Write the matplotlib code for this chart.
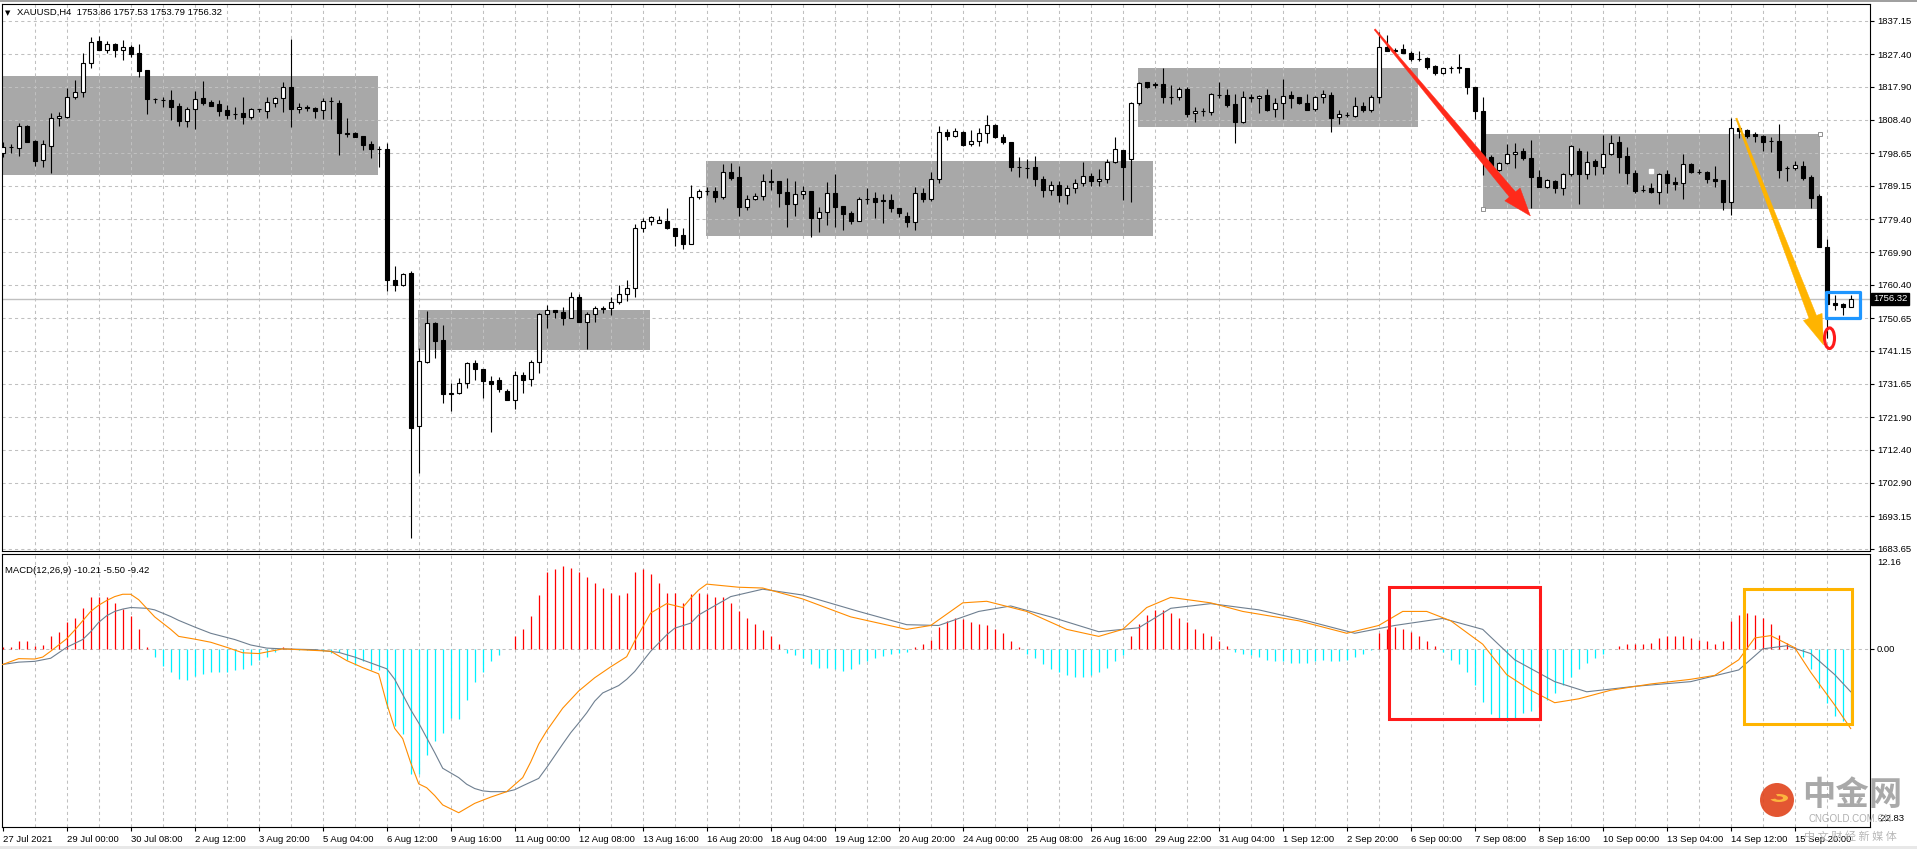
import matplotlib
matplotlib.use("Agg")
import matplotlib.pyplot as plt
import numpy as np
from matplotlib.patches import Rectangle, Polygon, Ellipse, Wedge
from matplotlib.transforms import blended_transform_factory

W, H = 1917, 849
plt.rcParams['font.family'] = ['Liberation Sans', 'DejaVu Sans']

# ---------------- data: XAUUSD H4 candles (bar index 0..231) ----------------
open_ = [1798.7,1800.3,1800.1,1806.5,1802.2,1796.6,1800.8,1808.8,1809.3,1815.1,
         1816.4,1825.0,1831.3,1828.7,1830.4,1828.7,1829.6,1827.7,1822.8,1814.5,
         1814.2,1814.1,1812.3,1808.1,1811.4,1814.6,1813.5,1812.9,1811.2,1810.1,
         1810.2,1809.2,1811.4,1811.0,1813.1,1814.6,1818.0,1811.4,1812.0,1811.8,
         1811.2,1813.8,1813.1,1804.4,1804.4,1803.6,1801.3,1799.9,1799.8,1761.9,
         1760.2,1763.7,1719.3,1738.0,1749.2,1744.2,1728.5,1728.8,1731.7,1737.5,
         1735.8,1732.5,1732.6,1729.4,1727.0,1734.1,1732.9,1737.9,1751.8,1753.0,
         1752.5,1750.8,1756.9,1749.5,1751.8,1753.4,1753.5,1755.3,1757.6,1759.4,
         1776.8,1778.9,1778.4,1778.9,1776.8,1774.9,1772.2,1786.0,1787.6,1787.7,
         1786.0,1793.1,1791.6,1782.9,1785.3,1786.3,1790.5,1790.5,1787.3,1784.0,
         1786.7,1787.7,1779.9,1781.5,1787.0,1783.3,1781.2,1779.0,1785.4,1785.5,
         1784.9,1785.0,1782.6,1780.4,1778.5,1787.0,1785.3,1791.1,1804.7,1803.7,
         1804.7,1801.2,1802.2,1804.4,1806.8,1803.2,1801.8,1794.7,1794.4,1794.7,
         1791.0,1788.0,1789.5,1786.5,1788.5,1790.0,1792.0,1790.5,1791.0,1796.2,
         1799.6,1796.9,1813.1,1819.3,1818.7,1818.7,1815.1,1814.9,1817.3,1810.2,
         1810.9,1810.5,1815.7,1815.6,1812.9,1807.8,1814.8,1814.6,1815.6,1811.4,
         1813.1,1815.6,1814.9,1813.1,1811.4,1814.9,1815.6,1809.1,1809.7,1809.5,
         1812.5,1811.2,1814.9,1829.6,1828.5,1828.9,1827.9,1826.1,1826.2,1824.1,
         1822.0,1823.4,1823.6,1823.3,1817.8,1811.0,1797.5,1793.8,1795.7,1798.4,
         1799.3,1797.2,1791.8,1788.9,1790.6,1788.4,1792.5,1799.3,1792.5,1796.4,
         1794.7,1798.4,1801.8,1797.8,1792.8,1788.0,1788.4,1787.3,1792.5,1790.4,
         1790.1,1795.5,1793.3,1793.3,1791.1,1790.8,1784.5,1805.9,1805.4,1804.1,
         1803.6,1802.2,1802.2,1794.3,1794.3,1794.9,1791.8,1786.2,1771.3,1755.0,
         1754.7,1753.86]
high_ = [1802.0,1801.3,1807.5,1806.8,1802.5,1802.5,1810.2,1810.6,1817.5,1819.9,
         1827.7,1832.5,1832.8,1831.3,1830.8,1831.5,1830.1,1830.4,1822.8,1814.6,
         1815.0,1817.0,1813.3,1812.0,1816.7,1819.6,1814.1,1814.1,1812.6,1812.2,
         1815.1,1811.9,1811.6,1815.1,1815.1,1819.4,1831.7,1813.1,1812.6,1812.2,
         1814.6,1814.9,1814.1,1808.8,1804.7,1803.6,1802.1,1800.7,1801.5,1765.8,
         1763.7,1764.5,1741.9,1752.9,1749.7,1748.7,1731.8,1733.2,1738.0,1738.5,
         1735.8,1733.9,1733.6,1730.1,1735.4,1734.9,1738.5,1752.3,1754.5,1753.1,
         1753.8,1758.4,1757.6,1752.6,1754.2,1754.3,1756.9,1760.3,1761.8,1778.0,
         1779.7,1780.4,1780.4,1782.8,1776.8,1776.8,1789.4,1788.1,1788.7,1788.7,
         1795.5,1795.9,1794.9,1786.5,1787.0,1792.6,1794.0,1790.5,1791.3,1790.6,
         1789.1,1787.7,1782.9,1790.2,1792.6,1783.3,1781.8,1785.8,1788.4,1787.3,
         1786.7,1786.7,1782.6,1781.6,1788.7,1788.4,1793.3,1806.5,1805.6,1806.1,
         1805.1,1805.4,1805.9,1809.7,1807.1,1804.2,1801.8,1797.4,1797.0,1797.7,
         1792.0,1790.5,1790.5,1789.5,1791.0,1796.0,1793.0,1794.0,1797.0,1803.4,
         1799.6,1813.5,1819.4,1819.3,1819.4,1823.3,1818.5,1818.0,1818.0,1812.0,
         1811.7,1816.2,1819.4,1817.3,1815.9,1816.7,1815.8,1815.6,1817.3,1814.6,
         1820.2,1816.7,1814.9,1815.9,1815.3,1817.0,1816.5,1811.2,1810.7,1814.9,
         1813.6,1815.6,1834.0,1833.0,1829.1,1830.4,1828.4,1828.4,1826.5,1824.3,
         1823.5,1824.0,1827.5,1823.3,1817.8,1815.1,1798.1,1796.2,1801.3,1801.5,
         1800.1,1802.5,1793.8,1791.1,1790.8,1793.0,1801.0,1800.1,1799.3,1796.9,
         1803.9,1803.9,1803.6,1800.5,1793.8,1789.4,1789.9,1792.8,1793.8,1791.6,
         1798.4,1795.9,1793.9,1793.5,1794.9,1790.8,1808.8,1805.9,1805.7,1804.9,
         1803.9,1803.4,1807.1,1795.0,1796.4,1796.4,1792.3,1786.8,1773.6,1757.4,
         1755.0,1757.53]
low_ = [1797.6,1798.6,1797.9,1802.0,1795.0,1794.5,1792.8,1806.5,1808.8,1814.4,
        1815.1,1823.3,1828.6,1827.7,1826.7,1825.7,1826.7,1820.9,1810.0,1813.3,
        1812.1,1808.3,1806.5,1806.3,1805.7,1812.6,1812.3,1809.4,1808.6,1808.5,
        1807.1,1808.6,1810.6,1808.8,1812.0,1810.7,1806.3,1810.2,1810.8,1809.0,
        1808.5,1808.5,1798.1,1803.4,1803.2,1799.6,1797.1,1794.7,1758.6,1758.6,
        1760.0,1686.7,1705.6,1737.6,1739.0,1726.1,1723.8,1728.5,1730.3,1732.7,
        1727.6,1717.6,1729.1,1727.0,1724.2,1728.9,1731.0,1734.8,1747.7,1750.6,
        1748.7,1750.6,1749.5,1741.6,1749.7,1752.2,1751.6,1754.8,1755.8,1756.9,
        1775.8,1777.9,1778.2,1776.5,1771.6,1770.7,1772.2,1785.3,1786.5,1784.5,
        1785.3,1790.9,1780.4,1782.1,1785.1,1785.1,1787.9,1783.1,1777.2,1780.5,
        1785.3,1774.4,1775.8,1777.8,1777.1,1776.3,1778.0,1779.0,1783.9,1779.7,
        1778.4,1781.6,1780.2,1777.2,1776.3,1784.4,1784.8,1790.1,1802.5,1803.4,
        1800.8,1800.8,1800.8,1801.7,1803.0,1801.2,1793.5,1791.8,1791.5,1789.0,
        1786.0,1786.5,1784.5,1784.0,1787.0,1789.0,1789.0,1789.0,1790.0,1795.7,
        1785.0,1784.5,1812.7,1817.5,1817.5,1813.3,1812.9,1814.1,1809.3,1807.8,
        1809.5,1809.8,1814.6,1812.2,1801.7,1807.5,1813.6,1810.4,1811.0,1809.3,
        1808.6,1811.9,1812.9,1811.2,1811.0,1813.1,1804.9,1807.0,1809.1,1809.3,
        1810.7,1810.7,1813.2,1828.4,1827.9,1827.7,1825.5,1825.5,1823.0,1821.4,
        1821.8,1822.0,1822.0,1815.8,1808.5,1792.3,1793.8,1793.6,1795.4,1794.3,
        1796.7,1782.6,1788.7,1788.6,1787.2,1786.5,1792.1,1783.9,1791.1,1792.3,
        1792.6,1798.1,1793.0,1789.7,1787.2,1787.5,1787.0,1783.8,1787.0,1787.8,
        1785.2,1792.8,1792.6,1789.9,1788.9,1782.1,1780.7,1803.0,1803.1,1802.0,
        1799.4,1799.1,1791.5,1790.6,1793.8,1790.8,1782.6,1771.3,1745.0,1753.1,
        1751.6,1753.79]
close_ = [1800.4,1800.4,1806.5,1802.0,1796.5,1801.2,1808.8,1809.5,1815.1,1816.4,
          1825.0,1831.1,1828.6,1830.4,1828.7,1829.4,1827.5,1822.6,1814.4,1814.4,
          1814.0,1812.1,1808.1,1811.5,1814.5,1813.3,1812.3,1811.0,1809.8,1810.0,
          1809.2,1811.5,1811.5,1813.4,1814.7,1818.0,1811.4,1812.0,1811.8,1811.0,
          1813.7,1813.7,1804.4,1804.3,1803.4,1801.1,1799.9,1799.8,1761.7,1760.2,
          1763.4,1718.7,1738.1,1749.2,1744.1,1728.5,1728.8,1731.7,1737.5,1735.8,
          1732.5,1731.5,1730.2,1727.0,1734.1,1732.8,1737.9,1751.8,1753.0,1752.4,
          1750.6,1756.7,1749.5,1751.8,1753.5,1753.5,1755.3,1757.6,1759.4,1776.8,
          1778.9,1780.1,1779.2,1776.8,1774.6,1772.2,1786.0,1787.7,1787.7,1786.0,
          1793.1,1791.5,1782.9,1785.3,1786.3,1790.5,1790.3,1787.2,1784.0,1786.7,
          1787.7,1779.9,1781.5,1787.0,1783.1,1781.0,1779.0,1785.3,1785.2,1784.5,
          1784.7,1782.6,1781.2,1778.7,1787.0,1785.3,1791.1,1804.7,1803.7,1805.1,
          1801.0,1802.2,1804.4,1806.8,1803.2,1801.8,1794.7,1794.6,1794.3,1791.0,
          1788.0,1789.5,1786.5,1788.5,1790.0,1792.0,1790.5,1791.0,1796.0,1799.9,
          1794.7,1813.1,1819.0,1818.0,1818.6,1815.1,1815.0,1817.2,1810.0,1810.9,
          1811.0,1815.8,1815.5,1812.7,1807.8,1814.9,1814.9,1815.4,1811.2,1813.1,
          1815.4,1814.8,1813.1,1811.2,1814.9,1815.8,1809.0,1809.9,1809.8,1812.5,
          1811.2,1814.9,1829.4,1828.4,1828.4,1827.7,1826.0,1826.0,1823.8,1822.0,
          1823.3,1823.5,1823.4,1817.8,1811.0,1797.6,1794.7,1795.7,1798.4,1799.0,
          1797.2,1791.8,1788.9,1790.8,1788.4,1792.5,1800.8,1792.5,1796.2,1794.9,
          1798.4,1801.7,1797.6,1792.8,1787.7,1787.9,1787.3,1792.6,1790.1,1789.7,
          1795.4,1793.3,1793.2,1791.1,1790.6,1784.4,1805.9,1805.2,1803.6,1803.6,
          1802.0,1802.1,1793.8,1794.2,1795.2,1791.5,1785.7,1771.3,1754.8,1754.5,
          1754.0,1756.32]

# MACD histogram (one value per bar)
macd_hist = [0.3,0.2,1.05,1.05,0.4,0.55,1.6,2.2,3.4,4.0,
             5.3,6.6,6.7,6.6,5.9,5.1,4.15,2.6,0.3,-1.1,
             -2.2,-3.0,-3.9,-4.0,-3.5,-3.2,-3.0,-2.9,-2.9,-2.7,
             -2.6,-2.1,-1.4,-1.1,-0.4,0.2,0.1,-0.1,-0.2,-0.2,
             -0.3,-0.5,-0.45,-1.4,-2.1,-1.6,-2.65,-2.65,-7.55,-9.9,
             -10.95,-16.1,-16.1,-13.6,-11.8,-10.8,-8.8,-8.95,-6.5,-4.3,
             -3.0,-1.6,-0.75,-0.05,1.6,2.6,4.15,6.9,9.8,10.3,
             10.6,10.4,9.9,9.2,8.4,7.8,7.1,6.9,7.1,9.8,
             10.2,9.6,8.4,7.1,7.1,5.9,7.0,7.2,7.0,6.6,
             6.6,5.9,4.8,4.0,3.2,2.4,1.6,0.6,-0.5,-0.8,
             -1.2,-2.0,-2.4,-2.4,-2.6,-2.8,-2.6,-2.0,-1.6,-1.2,
             -0.9,-0.6,-0.5,-0.4,0.3,0.6,1.2,2.8,3.6,4.0,
             3.8,3.5,3.2,3.0,2.6,2.0,1.0,0.2,-0.6,-1.2,
             -2.0,-2.6,-3.0,-3.4,-3.6,-3.6,-3.4,-3.0,-2.4,-1.6,
             -0.8,1.6,3.2,4.4,5.0,5.0,4.6,4.0,3.4,2.6,
             2.0,1.6,1.0,0.4,-0.4,-0.6,-0.8,-1.0,-1.4,-1.6,
             -1.6,-1.8,-1.8,-1.8,-1.6,-1.4,-1.6,-1.6,-1.4,-1.0,
             -0.6,-0.2,2.0,2.6,2.8,2.6,2.2,1.6,1.0,0.4,
             -0.4,-1.4,-2.0,-3.0,-4.6,-6.8,-8.4,-9.0,-9.2,-8.8,
             -8.2,-8.0,-7.4,-6.6,-5.6,-4.6,-3.6,-2.6,-1.8,-1.2,
             -0.6,0.0,0.4,0.6,0.6,0.6,0.8,1.4,1.6,1.6,
             1.6,1.4,1.2,1.0,0.6,1.0,3.6,4.4,4.6,4.4,
             4.0,3.2,1.8,0.8,0.2,-1.0,-2.6,-5.0,-7.0,-8.6,
             -9.2,-9.42]

# DIF (orange) line readings: bar index -> value
dif_bar = [0,2,4,5,6,7,8,9,10,11,12,13,14,15,16,17,18,19,20,21,22,24,26,28,30,32,34,35,37,39,41,43,45,47,
           48,49,50,51,52,53,54,55,57,59,61,63,65,66,67,68,70,72,74,76,78,79,81,83,85,86,87,
           88,92,95,100,106,113,116,120,123,128,133,137,140,143,146,151,155,162,168,172,175,178,181,
           185,188,191,194,197,201,206,211,214,217,219,221,224,226,229,231]
dif_val = [-2.0,-1.25,-1.3,-1.05,-0.3,0.5,1.3,2.4,3.6,4.8,5.6,6.2,6.7,7.0,7.0,6.3,5.2,4.1,3.3,2.5,1.6,1.25,0.85,0.2,-0.5,-0.6,-0.2,0.0,-0.1,-0.2,-0.3,-1.5,-2.4,-3.2,
           -7.0,-10.2,-11.5,-14.6,-17.3,-17.8,-18.8,-20.0,-21.0,-19.8,-19.0,-18.3,-16.5,-14.5,-12.2,-10.5,-7.6,-5.4,-3.7,-2.3,-1.0,1.0,4.6,5.8,5.3,6.5,7.55,
           8.3,7.9,7.8,6.4,4.1,2.5,3.0,5.9,6.1,4.8,2.5,1.6,2.5,5.3,6.6,5.9,4.8,3.6,2.0,3.0,4.8,4.8,3.6,
           0.6,-3.3,-5.3,-6.9,-6.4,-5.3,-4.5,-3.9,-3.4,-1.4,1.4,1.7,0.15,-3.0,-7.2,-10.21]

# DEA (grey signal) line readings
dea_bar = [0,2,4,6,8,10,11,12,13,14,15,16,18,19,21,22,24,26,29,31,33,35,39,42,44,46,48,49,50,51,52,53,54,55,57,58,59,60,61,63,64,65,
           67,68,69,70,71,72,73,74,75,77,78,79,80,81,82,83,84,86,87,
           91,95,100,107,113,117,122,126,131,137,142,146,151,157,163,169,174,180,185,189,194,198,204,211,217,220,223,226,229,231]
dea_val = [-2.0,-1.7,-1.6,-1.2,0.2,1.2,2.2,3.4,4.25,4.8,5.1,5.3,5.2,5.0,4.15,3.65,2.8,2.0,1.2,0.5,0.1,0.0,-0.1,-0.45,-1.05,-1.8,-2.55,-3.9,-5.85,-7.8,-9.5,-11.4,-13.3,-15.3,-16.5,-17.35,-17.9,-18.2,-18.3,-18.3,-18.05,-17.55,
           -16.6,-15.2,-13.7,-12.2,-10.75,-9.5,-8.2,-6.7,-5.65,-4.7,-3.9,-2.9,-1.6,-0.3,0.75,1.8,2.65,3.3,4.35,
           6.7,7.65,6.9,4.8,3.1,3.0,4.8,5.5,4.1,2.2,2.7,5.2,5.8,5.0,3.6,2.0,3.0,3.9,2.5,-1.4,-4.2,-5.5,-4.8,-4.2,-2.7,0.0,0.4,-0.6,-3.3,-5.50]

price_ticks = [1837.15,1827.40,1817.90,1808.40,1798.65,1789.15,1779.40,1769.90,1760.40,
               1750.65,1741.15,1731.65,1721.90,1712.40,1702.90,1693.15,1683.65]
time_labels = ['27 Jul 2021','29 Jul 00:00','30 Jul 08:00','2 Aug 12:00','3 Aug 20:00','5 Aug 04:00',
               '6 Aug 12:00','9 Aug 16:00','11 Aug 00:00','12 Aug 08:00','13 Aug 16:00','16 Aug 20:00',
               '18 Aug 04:00','19 Aug 12:00','20 Aug 20:00','24 Aug 00:00','25 Aug 08:00','26 Aug 16:00',
               '29 Aug 22:00','31 Aug 04:00','1 Sep 12:00','2 Sep 20:00','6 Sep 00:00','7 Sep 08:00',
               '8 Sep 16:00','10 Sep 00:00','13 Sep 04:00','14 Sep 12:00','15 Sep 20:00']
last_price = 1756.32
macd_top, macd_bottom = 12.16, -22.83

# ---------------- figure layout ----------------
fig = plt.figure(figsize=(W / 100, H / 100), dpi=100)
fig.patch.set_facecolor('white')

def fx(px):
    return px / W

def fy(py):
    return 1 - py / H

ax = fig.add_axes([fx(2), fy(551), (1870 - 2) / W, (551 - 4) / H])
ax2 = fig.add_axes([fx(2), fy(827), (1870 - 2) / W, (827 - 554) / H])

n = len(close_)
idx = np.arange(n)
O = np.array(open_); Hh = np.array(high_); L = np.array(low_); C = np.array(close_)

xl = (-0.0875, 233.41)
for a in (ax, ax2):
    a.set_xlim(*xl)
    a.set_facecolor('white')
    for s in a.spines.values():
        s.set_color('black')
        s.set_linewidth(0.8)
ax.set_ylim(1682.99, 1842.01)
ax2.set_ylim(macd_bottom, macd_top)

GRID = dict(color='#c0c0c0', lw=0.75, linestyle=(0, (3, 3)))
for g in range(4, n, 4):
    ax.axvline(g, zorder=1.5, **GRID)
    ax2.axvline(g, zorder=1.5, **GRID)
for p in price_ticks:
    ax.axhline(p, zorder=1.5, **GRID)
ax2.axhline(0, zorder=1.5, **GRID)

# ---------------- zones ----------------
zone_col = '#a8a8a8'
zones = [(-0.5, 46.9, 1792.3, 1821.1), (51.9, 80.9, 1741.4, 1753.05), (87.9, 143.8, 1774.65, 1796.45),
         (141.95, 176.9, 1806.35, 1823.3), (185.0, 227.1, 1782.4, 1804.2)]
for x0, x1, y0, y1 in zones:
    ax.add_patch(Rectangle((x0, y0), x1 - x0, y1 - y0, facecolor=zone_col, edgecolor='none', zorder=1))
ax.plot([185.0, 227.1], [1782.4, 1804.2], ls='none', marker='s', ms=3.2, mfc='white', mec='#909090', mew=0.7, zorder=6)
ax.plot([206.0], [1793.45], ls='none', marker='s', ms=2.5, mfc='white', mec='white', zorder=6)

ax.axhline(last_price, color='#c0c0c0', lw=1.0, zorder=2)

# ---------------- candles ----------------
up = C >= O
ax.vlines(idx, L, Hh, color='black', lw=0.8, zorder=3)
body_lo = np.minimum(O, C)
body_h = np.maximum(np.abs(C - O), 0.05)
ax.bar(idx, body_h, bottom=body_lo, width=0.5, color=np.where(up, 'white', 'black'),
       edgecolor='black', linewidth=0.8, zorder=4)

# ---------------- arrows (drawn in pixel space) ----------------
def tapered_arrow(a, p0, p1, color, w0, w1, hl, hw):
    fig.canvas.draw()
    d0 = a.transData.transform(p0)
    d1 = a.transData.transform(p1)
    d = d1 - d0
    Ln = np.hypot(*d)
    u = d / Ln
    nrm = np.array([-u[1], u[0]])
    base = d1 - u * hl
    pts = [d0 + nrm * w0 / 2, base + nrm * w1 / 2, base + nrm * hw / 2, d1,
           base - nrm * hw / 2, base - nrm * w1 / 2, d0 - nrm * w0 / 2]
    pts = fig.transFigure.inverted().transform(np.array(pts))
    a.add_patch(Polygon(pts, closed=True, transform=fig.transFigure, facecolor=color,
                        edgecolor=color, lw=0.3, zorder=7, clip_on=False))

tapered_arrow(ax, (171.5, 1834.65), (190.96, 1780.4), '#ff2a1a', 1.5, 8, 28, 20)
tapered_arrow(ax, (216.7, 1808.8), (227.6, 1742.9), '#ffb400', 1.5, 8, 30, 20)

ax.add_patch(Ellipse((228.35, 1744.85), 1.25, 6.0, fill=False, edgecolor='#ff1a1a', lw=2.2, zorder=8))
ax.add_patch(Rectangle((227.9, 1750.66), 232.2 - 227.9, 1758.4 - 1750.66, fill=False,
                       edgecolor='#1e96ff', lw=2.3, joinstyle='round', zorder=8))

# ---------------- price axis ----------------
ax.yaxis.tick_right()
ax.set_yticks(price_ticks)
ax.set_yticklabels(['%.2f' % p for p in price_ticks], fontsize=6.8)
ax.tick_params(axis='y', direction='out', length=3, width=0.8, pad=2, colors='black')
ax.set_xticks([])
trans = blended_transform_factory(ax.transAxes, ax.transData)
ax.text(1.0015, last_price, '%.2f' % last_price, transform=trans, fontsize=6.8, color='white',
        va='center', ha='left', zorder=10,
        bbox=dict(boxstyle='square,pad=0.15', facecolor='black', edgecolor='black'))

ax.text(0.0018, 0.984, '\u25BC', transform=ax.transAxes, fontsize=5, va='center', ha='left',
        family=['DejaVu Sans'])
ax.text(0.0082, 0.984, 'XAUUSD,H4  1753.86 1757.53 1753.79 1756.32', transform=ax.transAxes,
        fontsize=6.8, va='center', ha='left')

# ---------------- MACD panel ----------------
hist = np.array(macd_hist)
cols = np.where(hist >= 0, '#ff0000', '#00f0ff')
ax2.vlines(idx, 0, hist, colors=cols, lw=0.9, zorder=3)
ax2.plot(dea_bar, dea_val, color='#6e7f90', lw=0.8, zorder=4)
ax2.plot(dif_bar, dif_val, color='#ff8c00', lw=0.8, zorder=5)

ax2.add_patch(Rectangle((173.3, -9.04), 192.2 - 173.3, 7.94 + 9.04, fill=False,
                        edgecolor='#ff1a1a', lw=2.2, zorder=8))
ax2.add_patch(Rectangle((217.7, -9.68), 231.1 - 217.7, 7.65 + 9.68, fill=False,
                        edgecolor='#ffb400', lw=2.2, zorder=8))

ax2.yaxis.tick_right()
ax2.set_yticks([0.0])
ax2.set_yticklabels(['0.00'], fontsize=6.8)
ax2.tick_params(axis='y', direction='out', length=3, width=0.8, pad=2)
ax2.text(1.004, 0.985, '%.2f' % macd_top, transform=ax2.transAxes, fontsize=6.8, va='top', ha='left')
ax2.text(1.004, 0.015, '%.2f' % macd_bottom, transform=ax2.transAxes, fontsize=6.8, va='bottom', ha='left')
ax2.text(0.0018, 0.94, 'MACD(12,26,9) -10.21 -5.50 -9.42', transform=ax2.transAxes, fontsize=6.8,
         va='center', ha='left')

ax2.set_xticks(np.arange(0, 8 * len(time_labels), 8))
ax2.set_xticklabels(time_labels, fontsize=6.8, ha='left')
ax2.tick_params(axis='x', direction='out', length=3, width=0.8, pad=3)

# ---------------- watermark ----------------
cx, cy, r = 1777, 800, 17
fig.patches.append(Ellipse((fx(cx), fy(cy)), 2 * r / W, 2 * r / H, transform=fig.transFigure,
                           facecolor='#e0441c', edgecolor='none', alpha=0.9))
fig.patches.append(Wedge((fx(cx + 2), fy(cy - 2)), 9 / W, 200, 470, width=5 / W,
                         transform=fig.transFigure, facecolor='#ffc040', edgecolor='none', alpha=0.9))
fig.text(fx(1852), fy(796), '中金网', fontsize=24, color='#9a9a9a', alpha=0.85, ha='center', va='center',
         family=['Noto Sans CJK SC'], weight='bold')
fig.text(fx(1850), fy(819), 'CNGOLD.COM.CN', fontsize=7, color='#b0b0b0', ha='center', va='center')
fig.text(fx(1850), fy(836), '中 文 财 经 新 媒 体', fontsize=8, color='#b8b8b8', ha='center', va='center',
         family=['Noto Sans CJK SC'])

fig.patches.append(Rectangle((0, 0), 1, 3 / H, transform=fig.transFigure, facecolor='#e8e8e8', edgecolor='none'))
fig.patches.append(Rectangle((0, 1 - 2 / H), 1, 2 / H, transform=fig.transFigure, facecolor='#a0a0a0', edgecolor='none'))

fig.savefig('out.png', dpi=100)
